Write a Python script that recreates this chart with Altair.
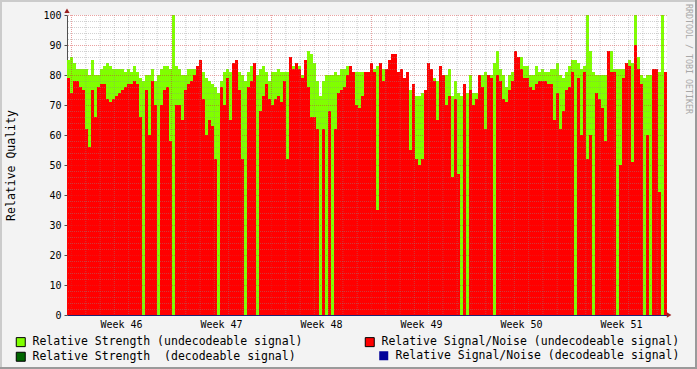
import json
import altair as alt
import pandas as pd

# ---- values (one slot = one 3-px column) ----
strength_undecodeable = [
    85, 86, 84, 82, 82, 82, 82, 80, 85, 80,
    80, 82, 83, 84, 83, 82, 82, 82, 82, 81,
    82, 81, 83, 81, 79, 78, 80, 80, 82, 78,
    80, 82, 83, 83, 82, 100, 83, 82, 80, 80,
    82, 82, 82, 83, 84, 81, 79, 78, 77, 76,
    74, 78, 81, 82, 81, 84, 83, 81, 80, 78,
    81, 83, 82, 80, 82, 83, 81, 78, 81, 81,
    82, 81, 81, 81, 84, 83, 83, 83, 80, 84,
    88, 87, 84, 78, 73, 78, 80, 80, 80, 81,
    80, 82, 82, 83, 82, 80, 81, 81, 81, 80,
    79, 80, 82, 83, 82, 82, 80, 80, 80, 80,
    80, 80, 78, 78, 75, 74, 73, 73, 74, 73,
    80, 80, 79, 78, 78, 79, 80, 82, 73, 78,
    74, 73, 74, 74, 80, 74, 74, 79, 80, 81,
    78, 80, 84, 88, 82, 80, 76, 80, 81, 84,
    84, 86, 83, 83, 80, 80, 83, 81, 82, 81,
    81, 82, 82, 84, 80, 79, 81, 83, 85, 85,
    84, 82, 83, 100, 88, 81, 80, 80, 80, 80,
    82, 88, 82, 82, 82, 82, 82, 85, 84, 100,
    86, 80, 79, 80, 80, 80, 81, 81, 100, 80,
]
snr_undecodeable = [
    79, 74, 78, 78, 76, 75, 62, 56, 75, 66,
    76, 77, 77, 72, 71, 72, 73, 74, 75, 76,
    77, 77, 78, 77, 66, 0, 75, 60, 78, 70,
    0, 70, 75, 76, 58, 0, 70, 70, 65, 75,
    77, 78, 80, 83, 85, 72, 60, 65, 63, 52,
    0, 76, 70, 79, 65, 84, 85, 75, 52, 0,
    76, 78, 84, 0, 68, 73, 77, 72, 70, 72,
    73, 71, 78, 52, 86, 82, 84, 82, 79, 85,
    76, 66, 66, 62, 0, 62, 0, 68, 0, 62,
    74, 75, 76, 80, 83, 81, 70, 69, 73, 81,
    81, 84, 81, 35, 84, 78, 82, 85, 87, 87,
    81, 82, 79, 81, 55, 77, 52, 50, 52, 75,
    84, 82, 78, 65, 83, 80, 70, 73, 46, 72,
    47, 0, 77, 0, 75, 70, 72, 80, 76, 62,
    80, 79, 0, 80, 78, 72, 71, 75, 78, 88,
    86, 82, 79, 79, 76, 75, 77, 78, 78, 78,
    77, 77, 65, 74, 62, 68, 75, 76, 81, 0,
    79, 60, 81, 52, 60, 0, 74, 72, 69, 58,
    88, 81, 81, 0, 50, 79, 84, 83, 51, 90,
    82, 77, 0, 60, 0, 82, 82, 41, 0, 81,
]
week_labels = ["Week 46", "Week 47", "Week 48", "Week 49", "Week 50", "Week 51"]
y_tick_values = [0, 10, 20, 30, 40, 50, 60, 70, 80, 90, 100]
series_names = [
    "Relative Strength (undecodeable signal)",
    "Relative Signal/Noise (undecodeable signal)",
    "Relative Strength\u00a0 (decodeable signal)",
    "Relative Signal/Noise (decodeable signal)",
]
series_colors = ["#80FF00", "#FF0000", "#006600", "#000099"]

MONO = "DejaVu Sans Mono"
N = len(strength_undecodeable)
SLOTS_PER_WEEK = 100 / 3.0
SLOTS_PER_DAY = SLOTS_PER_WEEK / 7
WEEK0 = 4 / 3.0

strength_df = pd.DataFrame({"t0": list(range(N)), "t1": [i + 1 for i in range(N)],
                            "v": strength_undecodeable, "series": series_names[0]})
snr_df = pd.DataFrame({"t0": list(range(N)), "t1": [i + 1 for i in range(N)],
                       "v": snr_undecodeable, "series": series_names[1]})

week_lines = [WEEK0 + k * SLOTS_PER_WEEK for k in range(6)]
day_lines = [WEEK0 + k * SLOTS_PER_DAY for k in range(42) if k % 7 != 0]
week_centers = [w + SLOTS_PER_WEEK / 2 for w in week_lines]
y_major = y_tick_values[1:]
y_minor = [v for v in range(2, 100, 2) if v % 10 != 0]

x_scale = alt.Scale(domain=[0, N], nice=False, zero=False)
y_scale = alt.Scale(domain=[0, 100], nice=False)

label_expr = "%s[round((datum.value - %f) / %f)]" % (json.dumps(week_labels), week_centers[0], SLOTS_PER_WEEK)
x_axis = alt.Axis(values=week_centers, labelExpr=label_expr, grid=False, ticks=False,
                  domain=True, domainColor="#202070", labelFont=MONO, labelFontSize=10,
                  labelColor="#000000", labelPadding=4, labelFlush=False, title=None)
y_axis = alt.Axis(values=y_tick_values, grid=False, domain=True, domainColor="#505050",
                  ticks=True, tickSize=3, tickColor="#505050", labelFont=MONO, labelFontSize=10,
                  labelColor="#000000", labelPadding=3, title="Relative Quality",
                  titleFont=MONO, titleFontSize=11.5, titleFontWeight="normal", titleColor="#000000",
                  titleAngle=270, titleX=-56, titleY=150, titleAlign="center", titleBaseline="middle")

legend_common = dict(symbolType="square", symbolSize=81, symbolStrokeColor="#000000",
                     symbolStrokeWidth=1, symbolOpacity=1, labelFont=MONO, labelFontSize=11.5,
                     labelColor="#000000", labelOffset=6, labelLimit=0, title=None, padding=0)
fill_legend = alt.Legend(orient="none", legendX=-52, legendY=321, columns=2, direction="horizontal",
                         columnPadding=60, rowPadding=1, **legend_common)
blue_legend = alt.Legend(orient="none", legendX=311, legendY=335, **legend_common)
fill_scale = alt.Scale(domain=series_names[:3], range=series_colors[:3])


def xenc(field):
    return alt.X(field, scale=x_scale, axis=x_axis)


def yenc(field):
    return alt.Y(field, scale=y_scale, axis=y_axis)


green = alt.Chart(strength_df).mark_bar(opacity=1).encode(
    x=xenc("t0:Q"), x2="t1:Q", y=yenc("v:Q"), y2=alt.datum(0),
    fill=alt.Fill("series:N", scale=fill_scale, legend=fill_legend),
)
red = alt.Chart(snr_df).mark_bar(opacity=1).encode(
    x=xenc("t0:Q"), x2="t1:Q", y=yenc("v:Q"), y2=alt.datum(0),
    fill=alt.Fill("series:N", scale=fill_scale, legend=fill_legend),
)
# decodeable series: constant zero, only visible as a legend entry
blue_key = alt.Chart(pd.DataFrame({"series": [series_names[3]], "ax": [0], "ay": [0]})).mark_point(
    filled=True, color=series_colors[3], size=81, opacity=0
).encode(
    x=xenc("ax:Q"), y=yenc("ay:Q"),
    shape=alt.Shape("series:N", scale=alt.Scale(domain=[series_names[3]], range=["square"]),
                    legend=blue_legend),
)

minor_y = alt.Chart(pd.DataFrame({"gy": y_minor})).mark_rule(
    color="#8C8C8C", strokeOpacity=0.4, strokeDash=[1, 1], strokeWidth=1, yOffset=0.5
).encode(y=yenc("gy:Q"))
minor_x = alt.Chart(pd.DataFrame({"gx": day_lines})).mark_rule(
    color="#8C8C8C", strokeOpacity=0.4, strokeDash=[1, 1], strokeWidth=1, xOffset=0.5
).encode(x=xenc("gx:Q"))
major_y = alt.Chart(pd.DataFrame({"gy": y_major})).mark_rule(
    color="#D03030", strokeOpacity=0.45, strokeDash=[1, 1], strokeWidth=1, yOffset=0.5
).encode(y=yenc("gy:Q"))
major_x = alt.Chart(pd.DataFrame({"gx": week_lines})).mark_rule(
    color="#D03030", strokeOpacity=0.45, strokeDash=[1, 1], strokeWidth=1, xOffset=0.5
).encode(x=xenc("gx:Q"))

arrow_up = alt.Chart(pd.DataFrame({"ax": [0], "ay": [101.4]})).mark_point(
    shape="triangle-up", filled=True, size=28, color="#9A2020", opacity=1
).encode(x=xenc("ax:Q"), y=yenc("ay:Q"))
arrow_right = alt.Chart(pd.DataFrame({"ax": [N + 0.7], "ay": [0]})).mark_point(
    shape="triangle-right", filled=True, size=28, color="#9A2020", opacity=1
).encode(x=xenc("ax:Q"), y=yenc("ay:Q"))

# 3-D frame around the picture
frame_light = [
    alt.Chart().mark_rule(color="#CBCBCB", strokeWidth=2).encode(
        x=alt.value(-67), x2=alt.value(630), y=alt.value(-14)),
    alt.Chart().mark_rule(color="#CBCBCB", strokeWidth=2).encode(
        x=alt.value(-66), y=alt.value(-15), y2=alt.value(354)),
]
frame_dark = [
    alt.Chart().mark_rule(color="#9A9A9A", strokeWidth=2).encode(
        x=alt.value(-67), x2=alt.value(630), y=alt.value(353)),
    alt.Chart().mark_rule(color="#9A9A9A", strokeWidth=2).encode(
        x=alt.value(629), y=alt.value(-15), y2=alt.value(354)),
]

chart = alt.layer(
    green, red, blue_key, minor_y, minor_x, major_y, major_x, arrow_up, arrow_right,
    *frame_light, *frame_dark,
).properties(
    width=600, height=300,
    autosize=alt.AutoSizeParams(type="none"),
    padding={"left": 67, "top": 15, "right": 30, "bottom": 54},
    title=alt.Title("RRDTOOL / TOBI OETIKER", orient="right", anchor="start", frame="bounds",
                    font=MONO, fontSize=8.3, fontWeight="normal", color="#A8A8A8", offset=-13, dx=5),
).configure(
    background="#F3F3F3",
).configure_view(
    fill="#FFFFFF", stroke=None,
)

chart.save("out.html", embed_options={"renderer": "svg", "actions": False})
